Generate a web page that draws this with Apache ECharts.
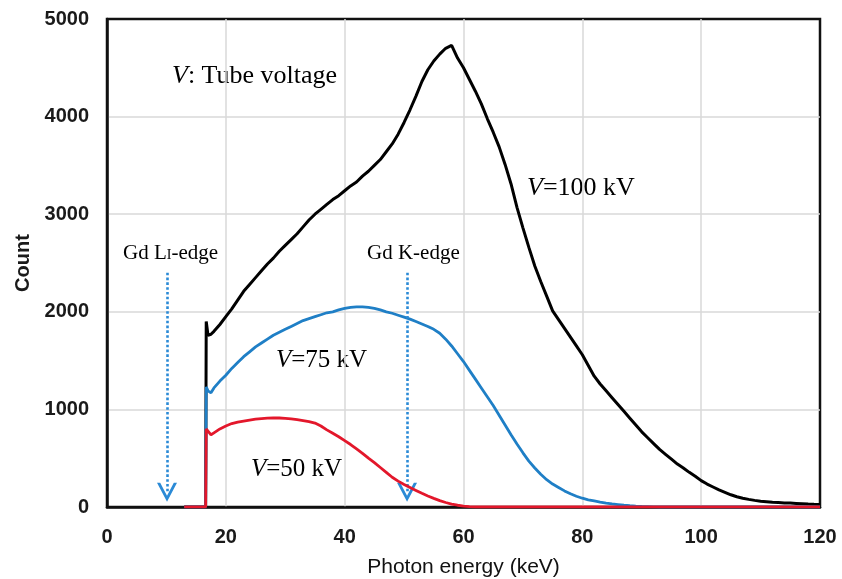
<!DOCTYPE html>
<html>
<head>
<meta charset="utf-8">
<script src="https://cdn.jsdelivr.net/npm/echarts@6/dist/echarts.min.js"></script>
<style>
  html, body { margin: 0; padding: 0; background: #fff; }
  #chart { width: 842px; height: 579px; }
</style>
</head>
<body>
<div id="chart"></div>
<script>
// photon energy (keV) sampled for all three spectra
const energy = [13, 16.6, 16.7, 17, 17.5,
  18, 19, 20, 21, 22, 23, 24, 25, 26, 27, 28, 29, 30, 31, 32, 33, 34, 35, 36, 37, 38, 39,
  40, 41, 42, 43, 44, 45, 46, 47, 48, 49, 50, 51, 52, 53, 54, 55, 56, 57, 58, 59,
  60, 61, 62, 63, 64, 65, 66, 67, 68, 69, 70, 71, 72, 73, 74, 75, 76, 77, 78, 79,
  80, 81, 82, 83, 84, 85, 86, 87, 88, 89, 90, 91, 92, 93, 94, 95, 96, 97, 98, 99,
  100, 101, 102, 103, 104, 105, 106, 107, 108, 109, 110, 111, 112, 113, 114, 115, 116, 117, 118, 119, 120];

const count100kV = [0, 0, 1900, 1760, 1770,
  1800, 1870, 1950, 2030, 2120, 2210, 2280, 2350, 2420, 2490, 2550, 2620, 2680, 2740, 2800, 2870, 2940, 3000, 3050, 3100, 3150, 3190,
  3240, 3290, 3330, 3390, 3440, 3500, 3560, 3640, 3720, 3820, 3940, 4070, 4210, 4360, 4480, 4570, 4640, 4700, 4730, 4600,
  4500, 4380, 4260, 4130, 3980, 3840, 3690, 3510, 3310, 3070, 2860, 2660, 2470, 2310, 2160, 2010, 1920, 1830, 1740, 1650,
  1560, 1450, 1340, 1260, 1190, 1120, 1050, 980, 910, 840, 770, 710, 650, 590, 540, 490, 440, 400, 355, 315,
  270, 235, 205, 175, 150, 125, 105, 90, 78, 68, 60, 54, 48, 45, 42, 40, 37, 34, 30, 27, 25];

const count75kV = [0, 0, 1230, 1190, 1170,
  1220, 1290, 1350, 1420, 1480, 1540, 1590, 1640, 1680, 1720, 1760, 1790, 1820, 1850, 1880, 1910, 1930, 1950, 1970, 1990, 2000, 2020,
  2035, 2045, 2050, 2050, 2045, 2035, 2020, 2000, 1985, 1965, 1945, 1925, 1900, 1875, 1850, 1820, 1780, 1720, 1650, 1570,
  1490, 1400, 1310, 1220, 1130, 1040, 940, 840, 740, 645, 555, 470, 400, 335, 280, 235, 200, 165, 135, 110,
  90, 74, 62, 50, 40, 32, 25, 18, 13, 9, 6, 4, 2, 0, 0, 0, 0, 0, 0, 0,
  0, 0, 0, 0, 0, 0, 0, 0, 0, 0, 0, 0, 0, 0, 0, 0, 0, 0, 0, 0, 0];

const count50kV = [0, 0, 800, 780, 740,
  760, 800, 830, 855, 870, 880, 890, 900, 905, 910, 912, 912, 908, 903, 895, 885, 875, 860, 830, 790, 755, 720,
  680, 640, 595, 550, 500, 455, 405, 355, 305, 265, 230, 200, 170, 140, 112, 88, 65, 46, 30, 18,
  9, 3, 0, 0, 0, 0, 0, 0, 0, 0, 0, 0, 0, 0, 0, 0, 0, 0, 0, 0,
  0, 0, 0, 0, 0, 0, 0, 0, 0, 0, 0, 0, 0, 0, 0, 0, 0, 0, 0, 0,
  0, 0, 0, 0, 0, 0, 0, 0, 0, 0, 0, 0, 0, 0, 0, 0, 0, 0, 0, 0, 0];

// absorption edges of Gd (keV), arrows run from the label down to the axis
const edgeEnergies = [10.1, 50.5];
const edgeArrowTop = 2400;
const edgeArrowEnd = 150;

const chevron = "path://M0,10 L5,0 L10,10 L8.4,10 L5,3.2 L1.6,10 Z";
const sans = "Liberation Sans";
const serif = "Liberation Serif";

function pairs(values) {
    return energy.map((e, i) => [e, values[i]]);
}

function vLabel(text, left, top, size) {
    return {
        type: "text", left, top,
        style: {
            text,
            fontFamily: serif, fontSize: size, fill: "#000",
            rich: { i: { fontFamily: serif, fontSize: size, fontStyle: "italic" } }
        }
    };
}

const chart = echarts.init(document.getElementById("chart"), null, { renderer: "canvas" });

const tickText = { fontFamily: sans, fontSize: 20, fontWeight: "bold", color: "#1a1a1a" };

chart.setOption({
    animation: false,
    backgroundColor: "#fff",
    grid: {
        left: 107, right: 22, top: 19, bottom: 72,
        outerBoundsMode: "none",
        containLabel: false,
        show: true,
        borderColor: "#111",
        borderWidth: 2.5,
        backgroundColor: "#fff"
    },
    xAxis: {
        type: "value",
        min: 0, max: 120, interval: 20,
        name: "Photon energy (keV)",
        nameLocation: "middle",
        nameGap: 50,
        nameTextStyle: { fontFamily: sans, fontSize: 21, color: "#111" },
        axisLine: { show: true, onZero: false, lineStyle: { color: "#111", width: 2.5 } },
        axisTick: { show: false },
        axisLabel: Object.assign({ margin: 20, formatter: v => String(v) }, tickText),
        splitLine: { show: true, showMinLine: false, showMaxLine: false, lineStyle: { color: "#d9d9d9", width: 1.5 } }
    },
    yAxis: {
        type: "value",
        min: 0, max: 5000, interval: 1000,
        name: "Count",
        nameLocation: "middle",
        nameGap: 63,
        nameRotate: 90,
        nameTextStyle: { fontFamily: sans, fontSize: 20, fontWeight: "bold", color: "#1a1a1a" },
        axisLine: { show: true, lineStyle: { color: "#111", width: 2.5 } },
        axisTick: { show: false },
        axisLabel: Object.assign({ margin: 18, formatter: v => String(v) }, tickText),
        splitLine: { show: true, showMinLine: false, showMaxLine: false, lineStyle: { color: "#d9d9d9", width: 1.5 } }
    },
    series: [
        {
            name: "V=100 kV",
            type: "line",
            data: pairs(count100kV),
            showSymbol: false,
            lineStyle: { color: "#000", width: 3 },
            z: 3
        },
        {
            name: "V=75 kV",
            type: "line",
            data: pairs(count75kV),
            showSymbol: false,
            lineStyle: { color: "#1f7fc6", width: 2.8 },
            z: 4
        },
        {
            name: "V=50 kV",
            type: "line",
            data: pairs(count50kV),
            showSymbol: false,
            lineStyle: { color: "#e3172b", width: 2.8 },
            z: 5,
            markLine: {
                silent: true,
                symbol: ["none", chevron],
                symbolSize: [20, 19],
                label: { show: false },
                lineStyle: { color: "#2b8ad6", width: 2.6, type: [2.6, 2.2] },
                data: edgeEnergies.map(e => [{ coord: [e, edgeArrowTop] }, { coord: [e, edgeArrowEnd] }])
            }
        }
    ],
    graphic: [
        vLabel("{i|V}: Tube voltage", 172, 63, 26),
        vLabel("{i|V}=100 kV", 527, 175, 26),
        vLabel("{i|V}=75 kV", 276, 348, 25),
        vLabel("{i|V}=50 kV", 251, 457, 25),
        {
            type: "text", left: 123, top: 243,
            style: {
                text: "Gd L{s|I}-edge",
                fontFamily: serif, fontSize: 21, fill: "#000",
                rich: { s: { fontFamily: serif, fontSize: 14, verticalAlign: "bottom", padding: [0, 0, 2, 0] } }
            }
        },
        {
            type: "text", left: 367, top: 243,
            style: { text: "Gd K-edge", fontFamily: serif, fontSize: 21, fill: "#000" }
        }
    ]
});

window.addEventListener("resize", () => chart.resize());
</script>
</body>
</html>
